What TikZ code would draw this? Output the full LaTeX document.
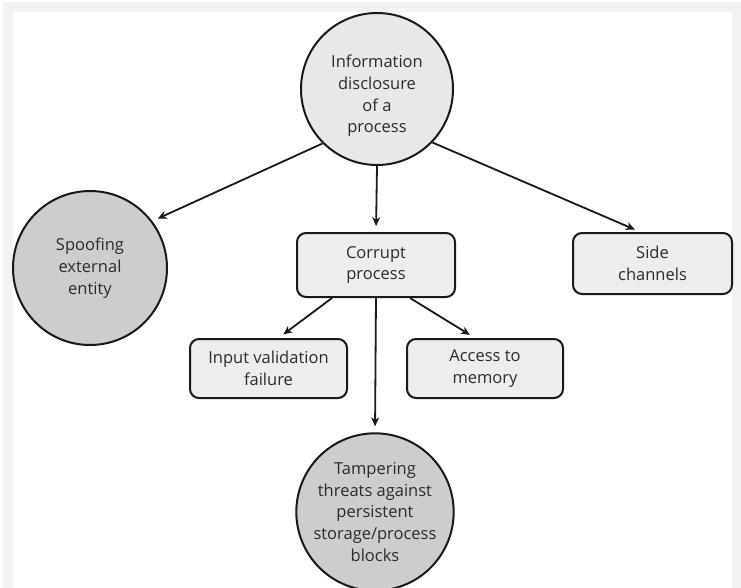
\documentclass[tikz,border=0pt]{standalone}
\usepackage{fontspec}
\setmainfont{Open Sans}
\usetikzlibrary{arrows.meta}
\definecolor{txt}{HTML}{2B2B2B}
\definecolor{lightfill}{HTML}{E8E8E8}
\definecolor{darkfill}{HTML}{CDCDCD}
\definecolor{boxfill}{HTML}{EDEDED}
\definecolor{frame}{HTML}{F2F2F2}
\tikzset{
  lbl/.style={font=\fontsize{16.5}{21.7}\selectfont, text=txt, align=center},
  topcirc/.style={circle, draw=black!90, line width=2pt, fill=lightfill, minimum size=152pt, inner sep=0pt, lbl},
  darkcirc/.style={circle, draw=black!90, line width=2pt, fill=darkfill, minimum size=154pt, inner sep=0pt, lbl},
  roundbox/.style={rectangle, rounded corners=9pt, draw=black!90, line width=2pt, fill=boxfill, inner sep=0pt, lbl},
  conn/.style={draw=black!90, line width=1.8pt, -{Stealth[length=9pt,width=8pt]}, shorten >=6pt}
}
\begin{document}
\begin{tikzpicture}[x=1pt,y=-1pt]
\useasboundingbox (0,0) rectangle (741,588);
\fill[frame] (3,2) rectangle (741,588);
\fill[white] (13,12) rectangle (732,588);

\node[topcirc] (top) at (377,89) {};
\node[lbl] (toptext) at (377,96) {Information\\disclosure\\of a\\process};
\node[darkcirc] (spoof) at (90,268) {Spoofing\\external\\entity};
\node[roundbox, minimum width=158pt, minimum height=64pt] (corrupt) at (376,265) {Corrupt\\process};
\node[roundbox, minimum width=159pt, minimum height=61pt] (side) at (652.5,263.5) {Side\\channels};
\node[roundbox, minimum width=157pt, minimum height=59pt] (input) at (268.5,368.5) {Input validation\\failure};
\node[roundbox, minimum width=156pt, minimum height=59pt] (access) at (485,368.5) {Access to\\memory};
\node[darkcirc, minimum size=156pt] (tamper) at (375,512) {Tampering\\threats against\\persistent\\storage/process\\blocks};

\draw[conn] (top.225) -- (spoof.37);
\draw[conn] (top.south) -- (corrupt.north);
\draw[conn] (top.-44) -- ([xshift=-12pt]side.north);
\draw[conn] ([xshift=-44pt]corrupt.south) -- ([xshift=10pt]input.north);
\draw[conn] ([xshift=34pt]corrupt.south) -- ([xshift=-10pt]access.north);
\draw[conn] (corrupt.south) -- (tamper.north);
\end{tikzpicture}
\end{document}
